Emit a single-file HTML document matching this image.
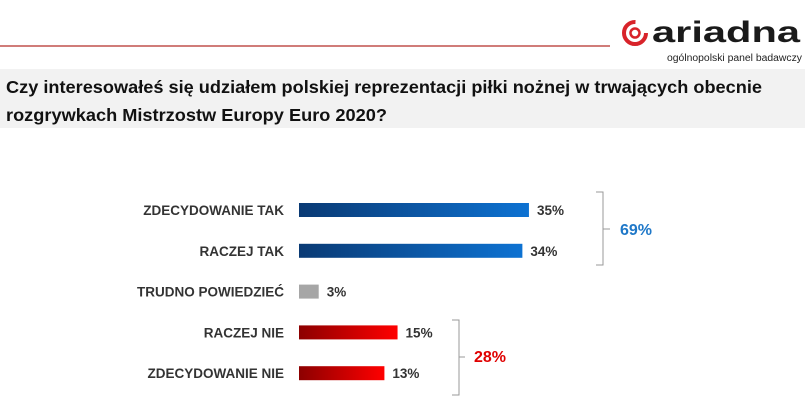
<!DOCTYPE html>
<html><head><meta charset="utf-8"><style>
body{margin:0;background:#fff}
svg{display:block;font-family:"Liberation Sans",sans-serif}
</style></head><body>
<svg width="805" height="409" viewBox="0 0 805 409">
<defs>
<linearGradient id="gb" x1="0" x2="1"><stop offset="0" stop-color="#0a3a74"/><stop offset="1" stop-color="#0d72d2"/></linearGradient>
<linearGradient id="gr" x1="0" x2="1"><stop offset="0" stop-color="#8c0000"/><stop offset="1" stop-color="#ff0000"/></linearGradient>
</defs>
<line x1="0" y1="46" x2="610" y2="46" stroke="#c0504d" stroke-width="1.5"/>
<g>
<circle cx="635" cy="33" r="11" fill="none" stroke="#d8232a" stroke-width="4" stroke-dasharray="52 17"/>
<circle cx="635" cy="33" r="4.5" fill="none" stroke="#d8232a" stroke-width="2.5"/>
<text x="652" y="42" font-size="30" font-weight="bold" fill="#1a1a1a" textLength="148" lengthAdjust="spacingAndGlyphs">ariadna</text>
<text x="667" y="61" font-size="10" fill="#222" textLength="135" lengthAdjust="spacingAndGlyphs">ogólnopolski panel badawczy</text>
</g>
<rect x="0" y="69" width="805" height="59" fill="#f2f2f2"/>
<text x="6" y="93" font-size="17.5" font-weight="bold" fill="#111" textLength="756" lengthAdjust="spacingAndGlyphs">Czy interesowałeś się udziałem polskiej reprezentacji piłki nożnej w trwających obecnie</text>
<text x="6" y="121" font-size="17.5" font-weight="bold" fill="#111" textLength="381" lengthAdjust="spacingAndGlyphs">rozgrywkach Mistrzostw Europy Euro 2020?</text>
<g id="bars"></g>
<g fill="none" stroke="#999" stroke-width="1">
<path d="M596 192 H603 V265 H596 M603 229 H610"/>
</g>
<text x="620" y="235" font-size="16" font-weight="bold" fill="#1f78c8">69%</text>
<g fill="none" stroke="#999" stroke-width="1">
<path d="M452 320 H459 V395 H452 M459 357 H465"/>
</g>
<text x="474" y="362" font-size="16" font-weight="bold" fill="#e00000">28%</text>
</svg>
<script>
const categories=["ZDECYDOWANIE TAK","RACZEJ TAK","TRUDNO POWIEDZIEĆ","RACZEJ NIE","ZDECYDOWANIE NIE"];
const values=[35,34,3,15,13];
const valueLabels=["35%","34%","3%","15%","13%"];
const kinds=["yes","yes","neutral","no","no"];
const ns="http://www.w3.org/2000/svg";
const g=document.getElementById("bars");
const x0=299,pxPer=6.57,rowY=i=>210+i*40.8,bh=14;
const fills={yes:"url(#gb)",neutral:"#a6a6a6",no:"url(#gr)"};
categories.forEach((c,i)=>{
  const cy=rowY(i);
  const t=document.createElementNS(ns,"text");
  t.setAttribute("x",284);t.setAttribute("y",cy+5);t.setAttribute("text-anchor","end");
  t.setAttribute("font-size","13.5");t.setAttribute("font-weight","bold");t.setAttribute("fill","#333");
  t.textContent=c;
  
  
  g.appendChild(t);
  const w=values[i]*pxPer;
  const r=document.createElementNS(ns,"rect");
  r.setAttribute("x",x0);r.setAttribute("y",cy-bh/2);r.setAttribute("width",w);r.setAttribute("height",bh);
  r.setAttribute("fill",fills[kinds[i]]);
  
  
  g.appendChild(r);
  const v=document.createElementNS(ns,"text");
  v.setAttribute("x",x0+w+8);v.setAttribute("y",cy+5);
  v.setAttribute("font-size","13.5");v.setAttribute("font-weight","bold");v.setAttribute("fill","#333");
  v.textContent=valueLabels[i];
  
  
  g.appendChild(v);
});
</script>
</body></html>
